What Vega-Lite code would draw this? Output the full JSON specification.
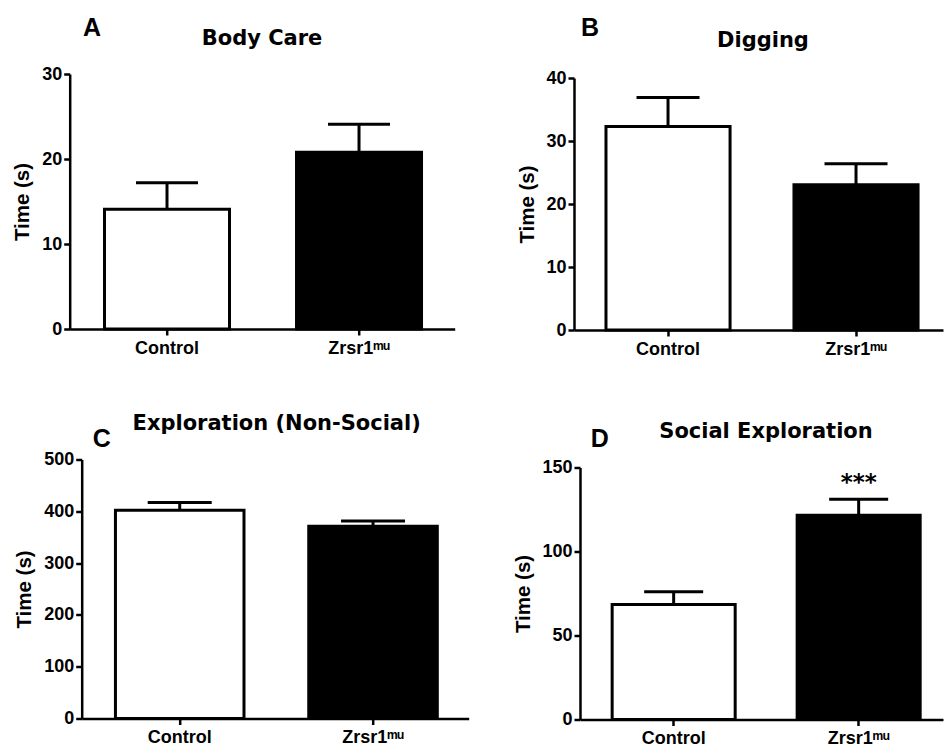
{
  "$schema": "https://vega.github.io/schema/vega-lite/v6.json",
  "padding": {"left": 12.7, "top": 16, "right": 0, "bottom": 0},
  "background": "white",
  "config": {
    "view": {"stroke": null},
    "font": "Liberation Sans",
    "axis": {
      "domainColor": "black", "domainWidth": 2.5, "tickColor": "black", "tickWidth": 2.5, "tickSize": 6,
      "labelColor": "black", "labelFont": "Liberation Sans", "labelFontWeight": "bold",
      "titleColor": "black", "titleFont": "Liberation Sans", "titleFontWeight": "bold", "grid": false
    },
    "axisX": {"labelFontSize": 18, "labelPadding": 4, "labelAngle": 0, "title": null},
    "axisY": {"labelFontSize": 18, "labelPadding": 2, "titleFontSize": 20.5, "titlePadding": 8.7},
    "title": {"font": "DejaVu Sans", "fontWeight": "bold", "fontSize": 21, "color": "black", "anchor": "middle", "frame": "group", "baseline": "alphabetic"}
  },
  "columns": 2,
  "align": "each",
  "spacing": {"row": 54.5, "column": 44.3},
  "concat": [
    {
      "width": 387, "height": 255,
      "title": {"text": "Body Care", "offset": -32.8, "dx": -13.2},
      "data": {"values": [
        {"group": "Control", "value": 14.1, "upper": 17.2},
        {"group": "Zrsr1ᵐᵘ", "value": 20.8, "upper": 24.1}
      ]},
      "encoding": {"x": {"field": "group", "type": "nominal", "sort": null, "scale": {"domain": ["Control", "Zrsr1ᵐᵘ"], "range": [-12, 373], "paddingInner": 0.349, "paddingOuter": 0.177, "align": 0.512}}},
      "layer": [
        {"mark": {"type": "bar", "stroke": "black", "strokeWidth": 3},
         "encoding": {"y": {"field": "value", "type": "quantitative", "scale": {"domain": [0, 30], "nice": false}, "axis": {"values": [0, 10, 20, 30], "title": "Time (s)", "offset": 12}},
                      "fill": {"field": "group", "type": "nominal", "scale": {"domain": ["Control", "Zrsr1ᵐᵘ"], "range": ["white", "black"]}, "legend": null}}},
        {"mark": {"type": "rule", "strokeWidth": 3, "color": "black"},
         "encoding": {"y": {"field": "value", "type": "quantitative"}, "y2": {"field": "upper"}}},
        {"mark": {"type": "tick", "thickness": 3, "size": 62, "color": "black", "opacity": 1},
         "encoding": {"y": {"field": "upper", "type": "quantitative"}}},
        {"data": {"values": [{"label": "A"}]},
         "mark": {"type": "text", "font": "Liberation Sans", "fontWeight": "bold", "fontSize": 25, "align": "center", "baseline": "alphabetic", "dx": -75, "dy": -38, "color": "black"},
         "encoding": {"x": {"datum": "Control"}, "y": {"datum": 30}, "text": {"field": "label"}}}
      ]
    },
    {
      "width": 363, "height": 256,
      "title": {"text": "Digging", "offset": -34.8, "dx": 1.5},
      "data": {"values": [
        {"group": "Control", "value": 32.3, "upper": 36.9},
        {"group": "Zrsr1ᵐᵘ", "value": 23.05, "upper": 26.4}
      ]},
      "encoding": {"x": {"field": "group", "type": "nominal", "sort": null, "scale": {"domain": ["Control", "Zrsr1ᵐᵘ"], "range": [-6, 363], "paddingInner": 0.34, "paddingOuter": 0.1514, "align": 0.562}}},
      "layer": [
        {"mark": {"type": "bar", "stroke": "black", "strokeWidth": 3},
         "encoding": {"y": {"field": "value", "type": "quantitative", "scale": {"domain": [0, 40], "range": [256, 4], "nice": false}, "axis": {"values": [0, 10, 20, 30, 40], "title": "Time (s)", "offset": 6}},
                      "fill": {"field": "group", "type": "nominal", "scale": {"domain": ["Control", "Zrsr1ᵐᵘ"], "range": ["white", "black"]}, "legend": null}}},
        {"mark": {"type": "rule", "strokeWidth": 3, "color": "black"},
         "encoding": {"y": {"field": "value", "type": "quantitative"}, "y2": {"field": "upper"}}},
        {"mark": {"type": "tick", "thickness": 3, "size": 63, "color": "black", "opacity": 1},
         "encoding": {"y": {"field": "upper", "type": "quantitative"}}},
        {"data": {"values": [{"label": "B"}]},
         "mark": {"type": "text", "font": "Liberation Sans", "fontWeight": "bold", "fontSize": 25, "align": "center", "baseline": "alphabetic", "dx": -78, "dy": -42, "color": "black"},
         "encoding": {"x": {"datum": "Control"}, "y": {"datum": 40}, "text": {"field": "label"}}}
      ]
    },
    {
      "width": 387, "height": 259,
      "title": {"text": "Exploration (Non-Social)", "offset": -6.4, "dx": 1.5},
      "data": {"values": [
        {"group": "Control", "value": 402, "upper": 417},
        {"group": "Zrsr1ᵐᵘ", "value": 371, "upper": 381.5}
      ]},
      "encoding": {"x": {"field": "group", "type": "nominal", "sort": null, "scale": {"domain": ["Control", "Zrsr1ᵐᵘ"], "paddingInner": 0.335, "paddingOuter": 0.1685, "align": 0.518}}},
      "layer": [
        {"mark": {"type": "bar", "stroke": "black", "strokeWidth": 3},
         "encoding": {"y": {"field": "value", "type": "quantitative", "scale": {"domain": [0, 500], "nice": false}, "axis": {"values": [0, 100, 200, 300, 400, 500], "title": "Time (s)"}},
                      "fill": {"field": "group", "type": "nominal", "scale": {"domain": ["Control", "Zrsr1ᵐᵘ"], "range": ["white", "black"]}, "legend": null}}},
        {"mark": {"type": "rule", "strokeWidth": 3, "color": "black"},
         "encoding": {"y": {"field": "value", "type": "quantitative"}, "y2": {"field": "upper"}}},
        {"mark": {"type": "tick", "thickness": 3, "size": 64, "color": "black", "opacity": 1},
         "encoding": {"y": {"field": "upper", "type": "quantitative"}}},
        {"data": {"values": [{"label": "C"}]},
         "mark": {"type": "text", "font": "Liberation Sans", "fontWeight": "bold", "fontSize": 25, "align": "center", "baseline": "alphabetic", "dx": -78, "dy": -12, "color": "black"},
         "encoding": {"x": {"datum": "Control"}, "y": {"datum": 500}, "text": {"field": "label"}}}
      ]
    },
    {
      "width": 363, "height": 260,
      "title": {"text": "Social Exploration", "offset": -15, "dx": 4.5},
      "data": {"values": [
        {"group": "Control", "value": 68.5, "upper": 76, "sig": ""},
        {"group": "Zrsr1ᵐᵘ", "value": 121.6, "upper": 131.1, "sig": "***"}
      ]},
      "encoding": {"x": {"field": "group", "type": "nominal", "sort": null, "scale": {"domain": ["Control", "Zrsr1ᵐᵘ"], "paddingInner": 0.335, "paddingOuter": 0.1486, "align": 0.585}}},
      "layer": [
        {"mark": {"type": "bar", "stroke": "black", "strokeWidth": 3},
         "encoding": {"y": {"field": "value", "type": "quantitative", "scale": {"domain": [0, 150], "range": [260, 8], "nice": false}, "axis": {"values": [0, 50, 100, 150], "title": "Time (s)"}},
                      "fill": {"field": "group", "type": "nominal", "scale": {"domain": ["Control", "Zrsr1ᵐᵘ"], "range": ["white", "black"]}, "legend": null}}},
        {"mark": {"type": "rule", "strokeWidth": 3, "color": "black"},
         "encoding": {"y": {"field": "value", "type": "quantitative"}, "y2": {"field": "upper"}}},
        {"mark": {"type": "tick", "thickness": 3, "size": 59, "color": "black", "opacity": 1},
         "encoding": {"y": {"field": "upper", "type": "quantitative"}}},
        {"transform": [{"filter": "datum.sig != ''"}],
         "mark": {"type": "text", "font": "DejaVu Sans", "fontWeight": "bold", "fontSize": 23, "align": "center", "baseline": "alphabetic", "dy": -9, "color": "black"},
         "encoding": {"y": {"field": "upper", "type": "quantitative"}, "text": {"field": "sig"}}},
        {"data": {"values": [{"label": "D"}]},
         "mark": {"type": "text", "font": "Liberation Sans", "fontWeight": "bold", "fontSize": 25, "align": "center", "baseline": "alphabetic", "dx": -74, "dy": -20.6, "color": "black"},
         "encoding": {"x": {"datum": "Control"}, "y": {"datum": 150}, "text": {"field": "label"}}}
      ]
    }
  ]
}
